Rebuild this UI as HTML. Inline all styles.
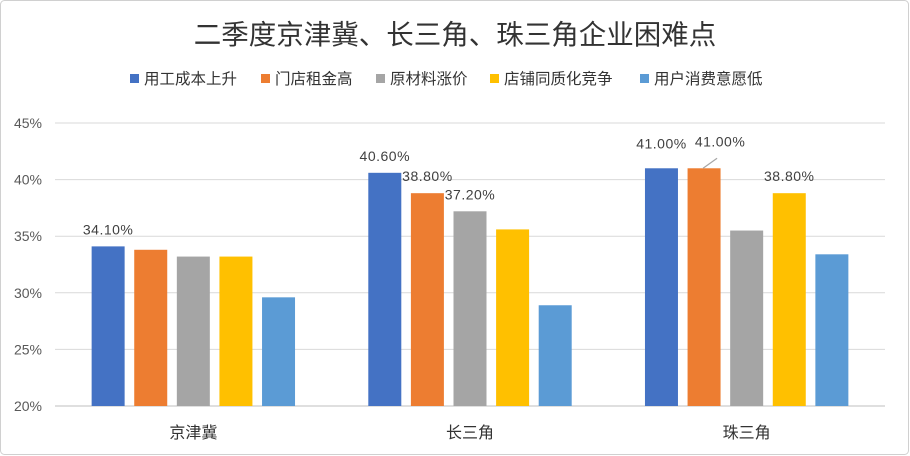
<!DOCTYPE html>
<html><head><meta charset="utf-8"><style>
html,body{margin:0;padding:0;background:#fff;}
svg{display:block;font-family:"Liberation Sans","Noto Sans CJK SC",sans-serif;}
</style></head><body>
<svg id="chart" width="910" height="456" viewBox="0 0 910 456">
<rect x="0.5" y="0.5" width="908" height="454" rx="4" fill="#fff" stroke="#d0d0d0"/>
<text x="455" y="44" text-anchor="middle" font-size="27.5" fill="#333">二季度京津冀、长三角、珠三角企业困难点</text>
<g id="legend"></g>
<g id="grid"></g>
<g id="bars"></g>
<g id="labels"></g>
</svg>
<script>
const categories = ["京津冀","长三角","珠三角"];
const seriesNames = ["用工成本上升","门店租金高","原材料涨价","店铺同质化竞争","用户消费意愿低"];
const s1 = [34.1, 40.6, 41.0];
const s2 = [33.8, 38.8, 41.0];
const s3 = [33.2, 37.2, 35.5];
const s4 = [33.2, 35.6, 38.8];
const s5 = [29.6, 28.9, 33.4];
const yTicks = [20,25,30,35,40,45];
const yTickLabels = ["20%","25%","30%","35%","40%","45%"];
const shownLabels = [[0,0],[1,0],[1,1],[1,2],[2,0],[2,1],[2,3]]; // [category, series]

const series=[s1,s2,s3,s4,s5];
const colors=["#4472C4","#ED7D31","#A5A5A5","#FFC000","#5B9BD5"];
const NS="http://www.w3.org/2000/svg";
const plotL=55,plotR=885,yMin=20,yMax=45,yBot=406,yTop=123;
const y=v=>yBot-(v-yMin)/(yMax-yMin)*(yBot-yTop);
const groupW=(plotR-plotL)/categories.length;
const barW=33,step=42.6;
const x=(c,s)=>plotL+groupW*c+groupW/2+(s-2)*step-barW/2;
function mk(tag,attrs,parent){const e=document.createElementNS(NS,tag);for(const k in attrs)e.setAttribute(k,attrs[k]);parent.appendChild(e);return e;}
const grid=document.getElementById('grid');
yTicks.forEach((t,i)=>{
  const l=mk('line',{x1:plotL,x2:plotR,y1:y(t),y2:y(t),stroke:i===0?'#bfbfbf':'#d9d9d9','stroke-width':1},grid);
  
  
  const tx=mk('text',{x:42,y:y(t)+5,'text-anchor':'end','font-size':14,fill:'#595959'},grid);
  tx.textContent=yTickLabels[i];
  
  
});
categories.forEach((c,i)=>{
  const tx=mk('text',{x:plotL+groupW*i+groupW/2,y:438,'text-anchor':'middle','font-size':16,fill:'#333'},grid);
  tx.textContent=c;
  
  
});
const bars=document.getElementById('bars');
series.forEach((arr,s)=>arr.forEach((v,c)=>{
  const r=mk('rect',{x:x(c,s),y:y(v),width:barW,height:yBot-y(v),fill:colors[s]},bars);
  
  
}));
const labels=document.getElementById('labels');
shownLabels.forEach(([c,s])=>{
  const v=series[s][c];
  let lx=x(c,s)+barW/2,ly=y(v)-12;
  if(c===2&&s===1){lx+=16;ly-=10;
    const ln=mk('line',{x1:lx-17,y1:y(v),x2:lx-3,y2:y(v)-10,stroke:'#a6a6a6','stroke-width':1.2},labels);
    
    
  }
  if(c===2&&s===0){ly-=8;}
  const t=mk('text',{x:lx,y:ly,'text-anchor':'middle','font-size':14,fill:'#404040','letter-spacing':'0.5'},labels);
  t.textContent=v.toFixed(2)+'%';
  
  
});
const legend=document.getElementById('legend');
const lx0=[130,261,376,490,640];
seriesNames.forEach((n,i)=>{
  const r=mk('rect',{x:lx0[i],y:74,width:9,height:9,fill:colors[i]},legend);
  
  
  const t=mk('text',{x:lx0[i]+14,y:84,'font-size':15.5,fill:'#333'},legend);
  t.textContent=n;
  
  
});
</script>
</body></html>
